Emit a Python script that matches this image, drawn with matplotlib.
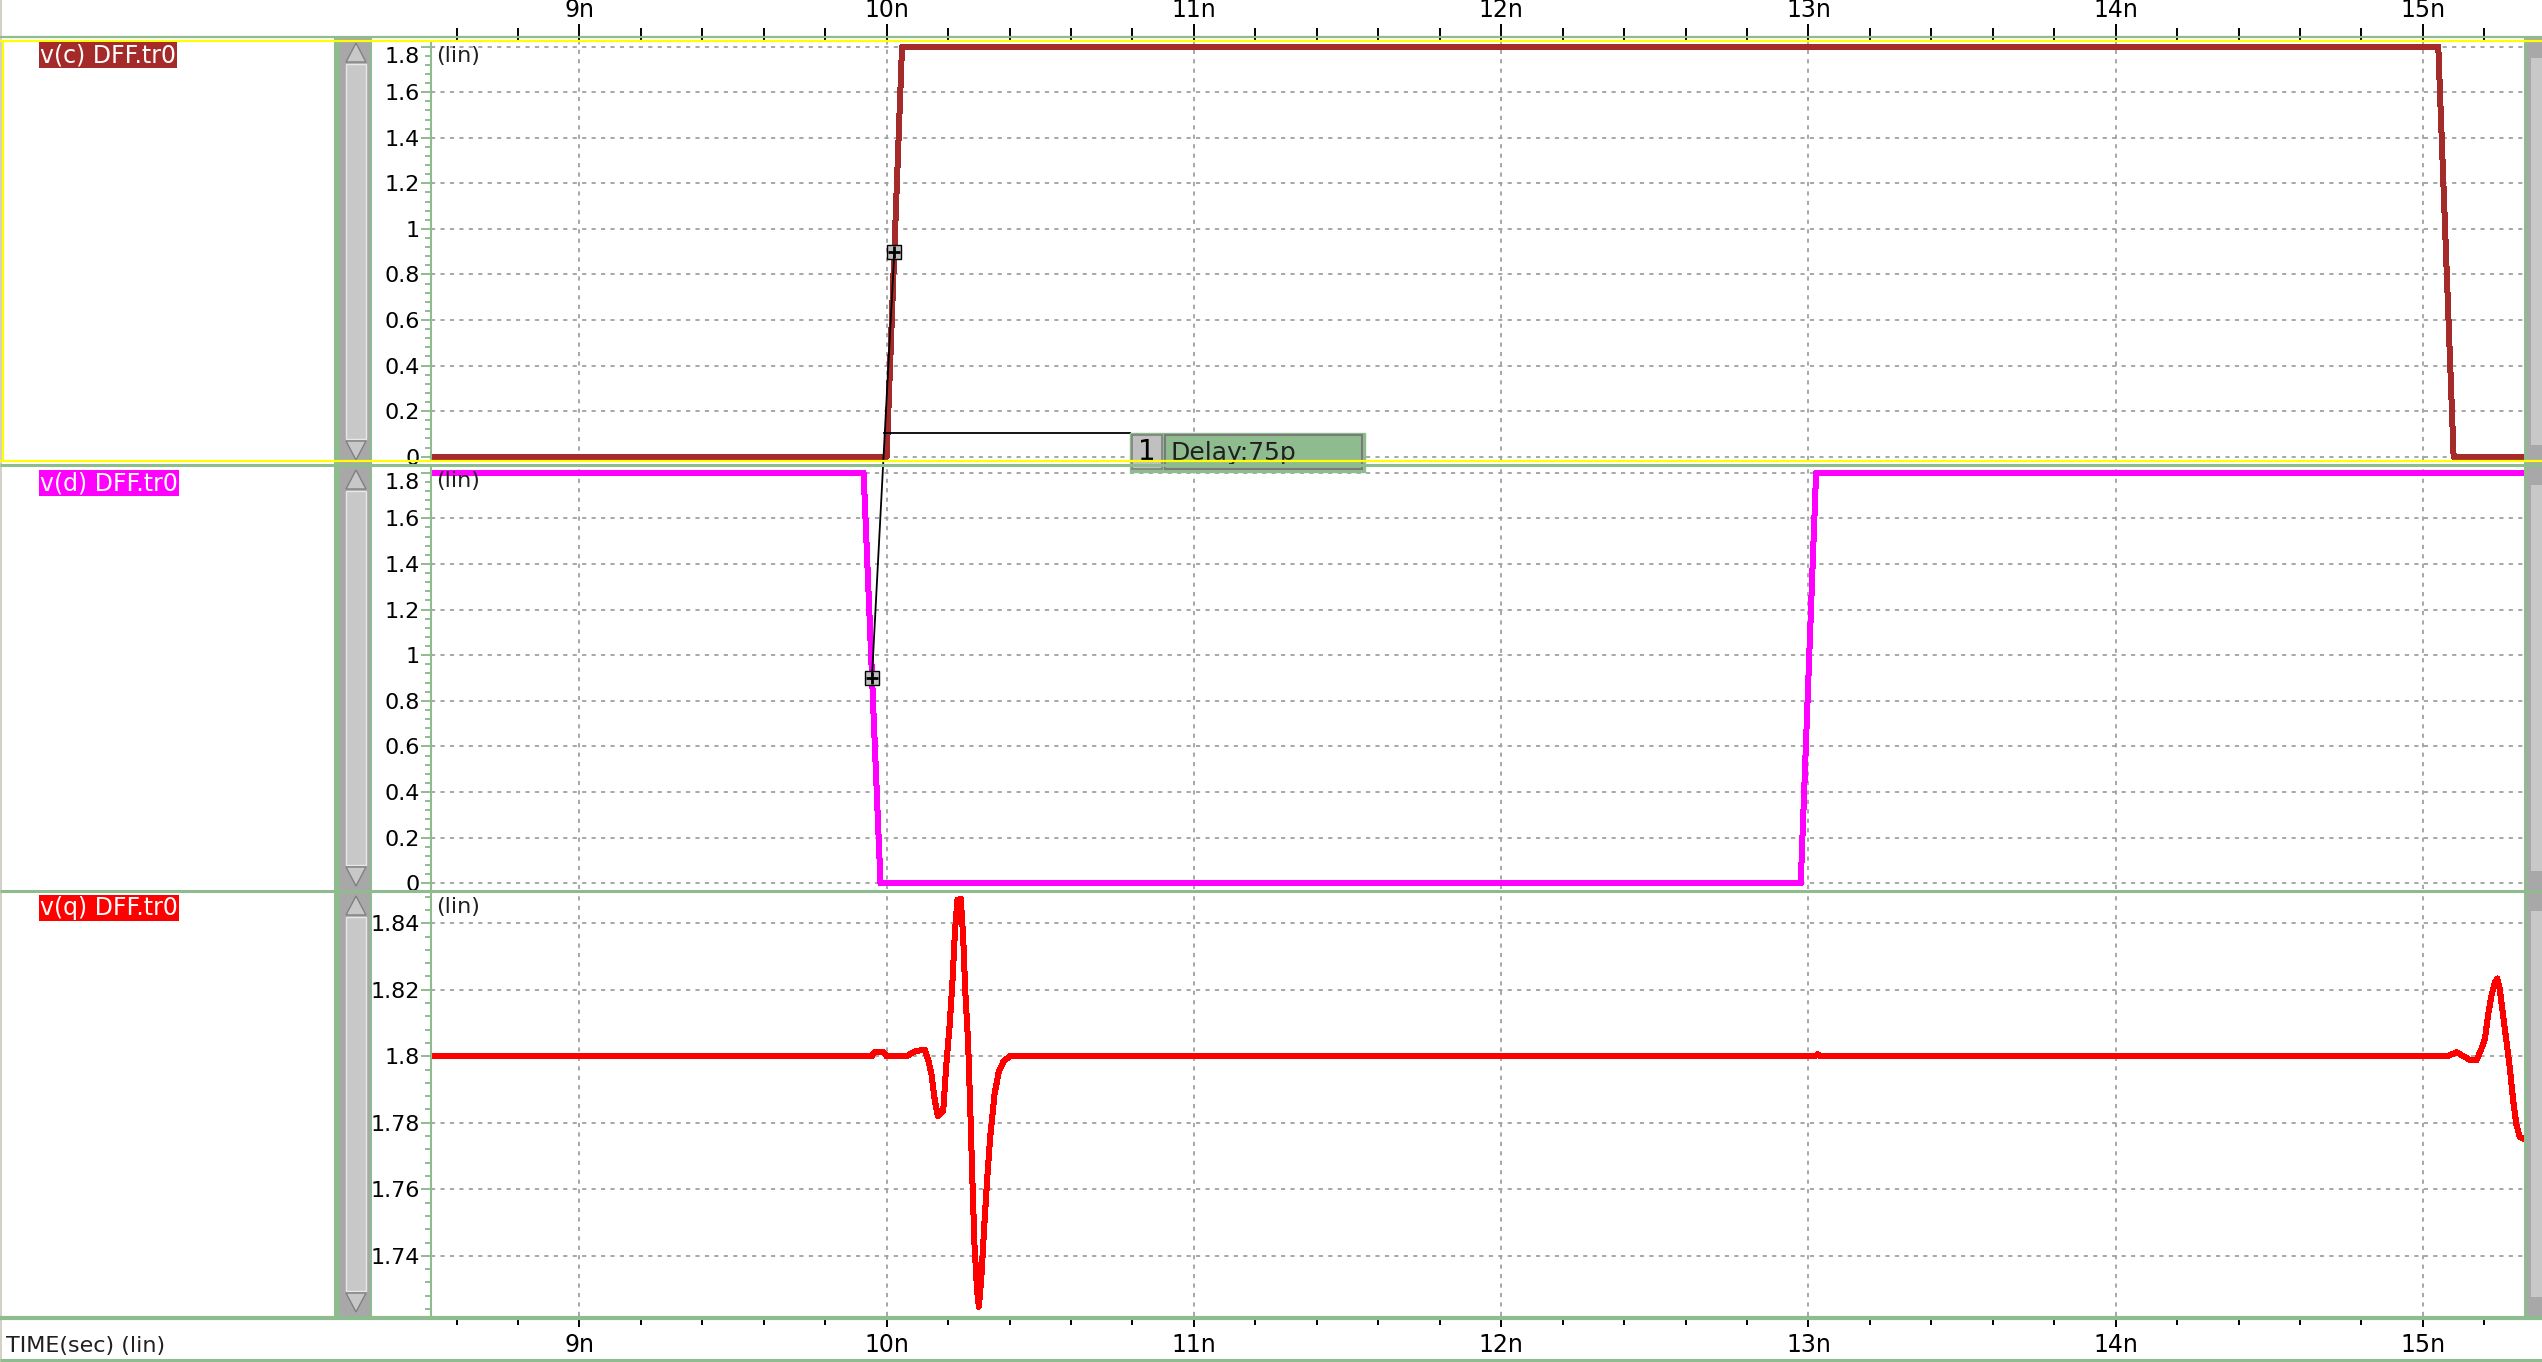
import matplotlib
matplotlib.use('Agg')
import matplotlib.pyplot as plt
from matplotlib.patches import Rectangle, Polygon, ConnectionPatch
from matplotlib.ticker import FixedLocator, MultipleLocator, FuncFormatter

plt.rcParams['font.family'] = ['DejaVu Sans']
plt.rcParams['lines.scale_dashes'] = False

# waveforms, time in ns, volts
c_t = [8.5, 10.0, 10.05, 15.05, 15.10, 15.35]
c_v = [0.0, 0.0, 1.8, 1.8, 0.0, 0.0]
d_t = [8.5, 9.925, 9.98, 12.975, 13.025, 15.35]
d_v = [1.8, 1.8, 0.0, 0.0, 1.8, 1.8]
q_t = [8.5, 9.951, 9.96, 9.99, 10.0, 10.065, 10.092, 10.124, 10.135, 10.146,
       10.157, 10.167, 10.184, 10.194, 10.205, 10.214, 10.222, 10.230, 10.241,
       10.249, 10.256, 10.265, 10.272, 10.279, 10.286, 10.294, 10.300, 10.308,
       10.317, 10.327, 10.337, 10.351, 10.365, 10.380, 10.400, 13.02, 13.03,
       13.04, 15.077, 15.110, 15.153, 15.175, 15.191, 15.202, 15.212, 15.223,
       15.234, 15.242, 15.250, 15.261, 15.272, 15.283, 15.294, 15.304, 15.315,
       15.328]
q_v = [1.8, 1.8, 1.8012, 1.8012, 1.8, 1.8, 1.8015, 1.802, 1.799, 1.7945,
       1.7865, 1.782, 1.7836, 1.7974, 1.8093, 1.8222, 1.837, 1.847, 1.8474,
       1.836, 1.8192, 1.8044, 1.7846, 1.7628, 1.743, 1.730, 1.7247, 1.7331,
       1.748, 1.7628, 1.7757, 1.7885, 1.7954, 1.7984, 1.8, 1.8, 1.8006,
       1.8, 1.8, 1.8012, 1.7989, 1.7989, 1.8024, 1.8053, 1.8123, 1.8182,
       1.8222, 1.8234, 1.8202, 1.8123, 1.8044, 1.7964, 1.7865, 1.7796, 1.7757,
       1.7752]

x_ticks = [9, 10, 11, 12, 13, 14, 15]
cd_yticks = [0, 0.2, 0.4, 0.6, 0.8, 1.0, 1.2, 1.4, 1.6, 1.8]
q_yticks = [1.74, 1.76, 1.78, 1.8, 1.82, 1.84]
names = ['v(c) DFF.tr0', 'v(d) DFF.tr0', 'v(q) DFF.tr0']
colors = ['#a52a2a', '#ff00ff', '#ff0000']

# delay measurement
cursor_c = (10.025, 0.9)
cursor_d = (9.952, 0.9)
delay_text = 'Delay:75p'

W, H = 2542, 1362
GREEN = '#8fbc8f'
GRID = '#a0a0a0'

fig = plt.figure(figsize=(W / 100, H / 100), dpi=100)
fig.patch.set_facecolor('white')


def px_rect(x0, y0, x1, y1):
    return [x0 / W, 1 - y1 / H, (x1 - x0) / W, (y1 - y0) / H]


panel_px = [(42, 460), (467, 889), (893, 1316)]
ylims = [(-0.0145, 1.8206), (-0.025, 1.825), (1.7219, 1.8491)]
axes = []
for (y0, y1), yl in zip(panel_px, ylims):
    ax = fig.add_axes(px_rect(431, y0, 2524, y1))
    ax.set_xlim(8.517, 15.329)
    ax.set_ylim(*yl)
    ax.xaxis.set_major_locator(FixedLocator(x_ticks))
    ax.xaxis.set_minor_locator(MultipleLocator(0.2))
    ax.xaxis.set_major_formatter(FuncFormatter(lambda v, p: f'{v:.0f}n'))
    ax.yaxis.set_major_formatter(FuncFormatter(lambda v, p: f'{v:g}'))
    ax.grid(True, which='major', color=GRID, linestyle=(0, (3, 3.8)), lw=1.3)
    ax.set_axisbelow(True)
    for s in ax.spines.values():
        s.set_visible(False)
    ax.spines['left'].set_visible(True)
    ax.spines['left'].set_color(GREEN)
    ax.spines['left'].set_linewidth(1.5)
    ax.tick_params(axis='y', which='major', direction='out', length=7, width=1.4,
                   color=GREEN, labelsize=16, pad=1)
    ax.tick_params(axis='y', which='minor', direction='out', length=4, width=1.4,
                   color=GREEN)
    ax.tick_params(axis='x', which='both', bottom=False, top=False,
                   labelbottom=False, labeltop=False)
    axes.append(ax)
ax1, ax2, ax3 = axes

for ax in (ax1, ax2):
    ax.yaxis.set_major_locator(FixedLocator(cd_yticks))
    ax.yaxis.set_minor_locator(MultipleLocator(0.04))
ax3.yaxis.set_major_locator(FixedLocator(q_yticks))
ax3.yaxis.set_minor_locator(MultipleLocator(0.004))

ax1.tick_params(axis='x', which='major', top=True, labeltop=True, length=13,
                width=1.4, color='black', labelsize=17, pad=1.5)
ax1.tick_params(axis='x', which='minor', top=True, length=10, width=1.4, color='black')
ax3.tick_params(axis='x', which='major', bottom=True, labelbottom=True, length=8,
                width=1.4, color='black', labelsize=17, pad=4.5)
ax3.tick_params(axis='x', which='minor', bottom=True, length=6.5, width=1.4, color='black')

ax1.plot(c_t, c_v, color=colors[0], lw=3.6, antialiased=False)
ax2.plot(d_t, d_v, color=colors[1], lw=3.6, antialiased=False)
ax3.plot(q_t, q_v, color=colors[2], lw=3.6, antialiased=False)

for ax in (ax1, ax2):
    ax.yaxis.get_major_ticks()[-1].label1.set_verticalalignment('top')

# cursor line between the two 50% points
cp = ConnectionPatch(xyA=cursor_c, coordsA=ax1.transData, xyB=cursor_d,
                     coordsB=ax2.transData, color='black', lw=1.3, zorder=5)
fig.add_artist(cp)
for ax, pt in ((ax1, cursor_c), (ax2, cursor_d)):
    ax.plot(*pt, marker='s', ms=10, mfc='#c0c0c0', mec='black', mew=1, clip_on=False, zorder=6)
    ax.plot(*pt, marker='+', ms=9, color='black', mew=2, clip_on=False, zorder=7)

ax1.plot([9.99, 10.792], [0.104, 0.104], color='black', lw=1.3)

# delay label box
tr = ax1.transData
fig.add_artist(Rectangle((10.792, -0.067), 0.765, 0.171, transform=tr,
                         fc=GREEN, ec=GREEN, zorder=5))
fig.add_artist(Rectangle((10.80, -0.055), 0.095, 0.15, transform=tr,
                         fc='#c0c0c0', ec='#808080', lw=1.2, zorder=5))
fig.add_artist(Rectangle((10.905, -0.055), 0.642, 0.15, transform=tr,
                         fc=GREEN, ec='#7a7a7a', lw=1.5, zorder=5))
fig.text(10.848, 0.02, '1', transform=tr, fontsize=20,
         ha='center', va='center', zorder=6)
ax1.plot([10.818, 10.872], [0.085, -0.05], ls='none', marker='o', ms=3.5,
         mfc='#ffff00', mec='black', mew=0.6, clip_on=False, zorder=8)
fig.text(10.925, 0.015, delay_text, transform=tr, fontsize=18, color='#202020',
         ha='left', va='center', zorder=6)

# window chrome
ov = fig.add_axes([0, 0, 1, 1], zorder=10)
ov.set_xlim(0, W)
ov.set_ylim(H, 0)
ov.axis('off')

ov.add_patch(Rectangle((0, 0), 2, H, fc='#d4d0c8', ec='none'))
for y, lw in ((36.7, 1.6), (465, 2.2), (891, 2.2), (1317.5, 3.0), (1360, 2.2)):
    ov.plot([0, W], [y, y], color=GREEN, lw=lw, solid_capstyle='butt')

sb = [(38, 465), (465, 891), (891, 1317)]
for y0, y1 in sb:
    ov.add_patch(Rectangle((334, y0), 6, y1 - y0, fc=GREEN, ec='none'))
    ov.add_patch(Rectangle((340, y0), 31, y1 - y0, fc='#a8a8a8', ec='none'))
    ov.add_patch(Rectangle((346, y0 + 26), 20, y1 - y0 - 52, fc='#c8c8c8',
                           ec='#e8e8e8', lw=1))
    ov.add_patch(Polygon([(346, y0 + 24), (366, y0 + 24), (356, y0 + 5)],
                         closed=True, fc='#c8c8c8', ec='#808080', lw=1))
    ov.add_patch(Polygon([(346, y1 - 24), (366, y1 - 24), (356, y1 - 5)],
                         closed=True, fc='#c8c8c8', ec='#808080', lw=1))
    ov.plot([371, 371], [y0, y1], color=GREEN, lw=1.5)
    ov.add_patch(Rectangle((2524, y0), 3, y1 - y0, fc=GREEN, ec='none'))
    ov.add_patch(Rectangle((2527, y0), 15, y1 - y0, fc='#a8a8a8', ec='none'))
    ov.add_patch(Rectangle((2531, y0 + 20), 11, y1 - y0 - 40, fc='#c8c8c8', ec='none'))

# selected panel outline
for y in (40.7, 460.7):
    ov.plot([0, W], [y, y], color='#ffff00', lw=1.6, solid_capstyle='butt')
ov.plot([3, 3], [40.7, 460.7], color='#ffff00', lw=1.6)

label_y = [55, 483, 908]
for name, col, y in zip(names, colors, label_y):
    ov.text(40, y, name, color='white', fontsize=17, ha='left', va='center',
            bbox=dict(boxstyle='square,pad=0.03', fc=col, ec='none'))
for (y0, y1) in panel_px:
    ov.text(436, y0 + 4, '(lin)', fontsize=16, ha='left', va='top', color='#202020')
ov.text(6, 1346, 'TIME(sec) (lin)', fontsize=16, ha='left', va='center', color='#202020')

fig.savefig('out.png', dpi=100)
